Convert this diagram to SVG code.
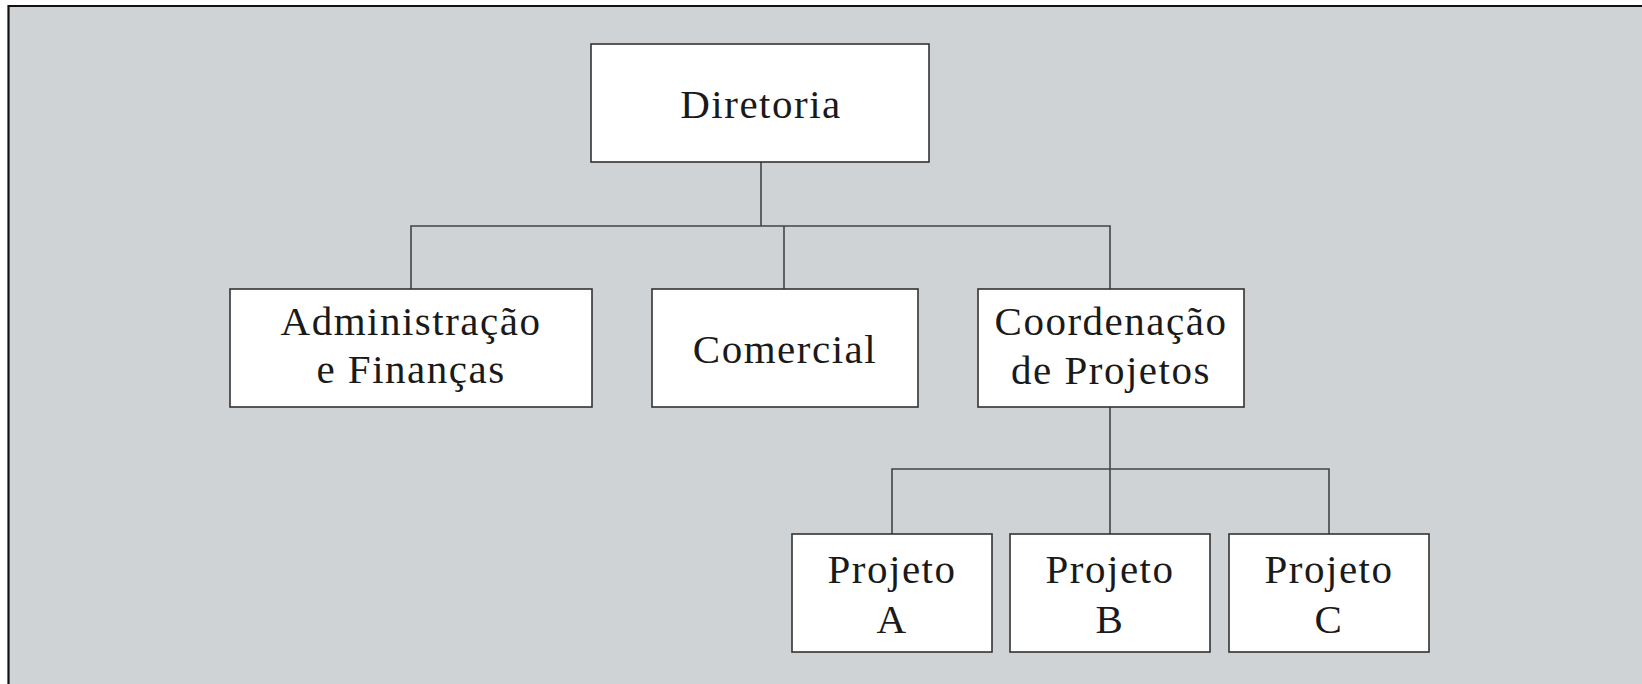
<svg xmlns="http://www.w3.org/2000/svg" width="1642" height="684" viewBox="0 0 1642 684">
<style>
.bg{fill:#cfd3d6}
.frame{fill:none;stroke:#111;stroke-width:2.2}
.box{fill:#fff;stroke:#333;stroke-width:1.6}
.con{fill:none;stroke:#444;stroke-width:1.6}
text{font-family:"Liberation Serif","Times New Roman",serif;font-size:41px;fill:#1a1a1a;text-anchor:middle;letter-spacing:1.5px}
</style>
<rect x="0" y="0" width="1642" height="684" fill="#fff"/>
<rect class="bg" x="8.5" y="6" width="1634" height="678"/>
<path class="frame" d="M8.5,684 V6 H1642"/>
<g id="connectors">
<path class="con" d="M761,162 V226"/>
<path class="con" d="M411,289 V226 H1110 V289"/>
<path class="con" d="M784,226 V289"/>
<path class="con" d="M1110,407 V534"/>
<path class="con" d="M892,534 V469 H1329 V534"/>
</g>
<g id="diretoria">
<rect class="box" x="591" y="44" width="338" height="118"/>
<text x="761" y="118">Diretoria</text>
</g>
<g id="administracao">
<rect class="box" x="230" y="289" width="362" height="118"/>
<text x="411" y="335">Administração</text>
<text x="411" y="383">e Finanças</text>
</g>
<g id="comercial">
<rect class="box" x="652" y="289" width="266" height="118"/>
<text x="785" y="363">Comercial</text>
</g>
<g id="coordenacao">
<rect class="box" x="978" y="289" width="266" height="118"/>
<text x="1111" y="335">Coordenação</text>
<text x="1111" y="384">de Projetos</text>
</g>
<g id="projeto-a">
<rect class="box" x="792" y="534" width="200" height="118"/>
<text x="892" y="583">Projeto</text>
<text x="892" y="633">A</text>
</g>
<g id="projeto-b">
<rect class="box" x="1010" y="534" width="200" height="118"/>
<text x="1110" y="583">Projeto</text>
<text x="1110" y="633">B</text>
</g>
<g id="projeto-c">
<rect class="box" x="1229" y="534" width="200" height="118"/>
<text x="1329" y="583">Projeto</text>
<text x="1329" y="633">C</text>
</g>
</svg>
